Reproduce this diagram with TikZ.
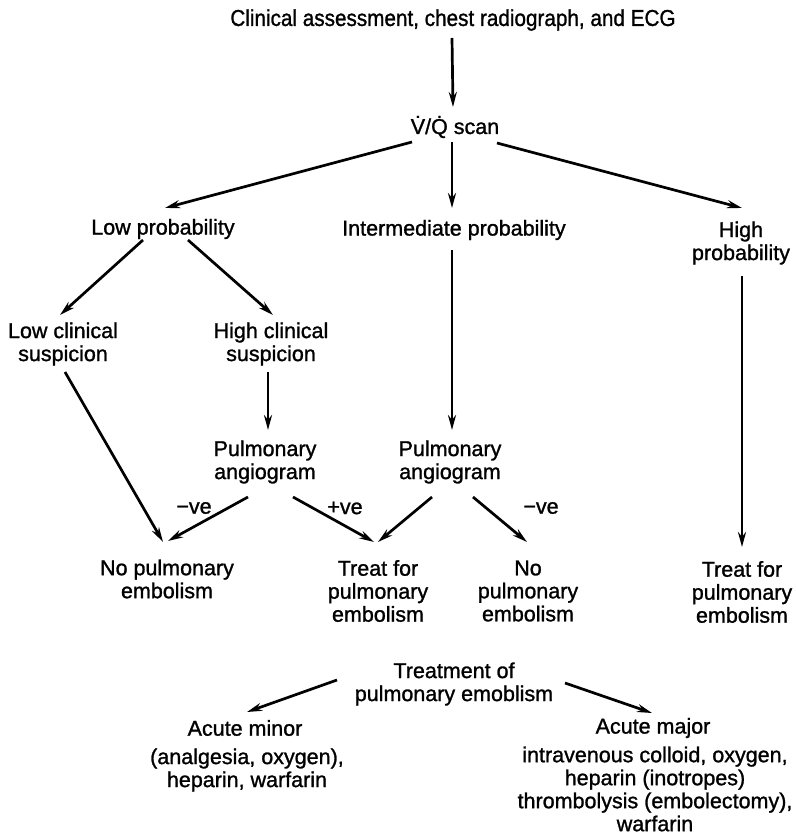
\documentclass[tikz,border=0pt]{standalone}
\usepackage{fontspec}
\setmainfont{Liberation Sans}[FakeBold=1.2]
\usetikzlibrary{arrows.meta,calc}
\tikzset{
  txt/.style={inner sep=0pt, align=center, font=\fontsize{21.5}{23}\selectfont},
  lbl/.style={inner sep=0pt, font=\fontsize{21.5}{23}\selectfont},
  arr/.style={line width=2.7pt, -{Stealth[length=15pt,width=8pt]}}
}
\begin{document}
\begin{tikzpicture}[x=1pt,y=-1pt]
\useasboundingbox (0,0) rectangle (795,832);
\node[txt, font=\fontsize{23}{25}\selectfont, xscale=0.9] (top) at (453,20) {Clinical assessment, chest radiograph, and ECG};
\node[txt] (vq) at (455,127) {\.{V}/\.{Q} scan};
\node[txt] (low) at (163,229) {Low probability};
\node[txt] (inter) at (454,230) {Intermediate probability};
\node[txt] (high) at (741,243) {High\\probability};
\node[txt] (lcs) at (63,344) {Low clinical\\suspicion};
\node[txt] (hcs) at (271,344) {High clinical\\suspicion};
\node[txt] (pa1) at (265,462) {Pulmonary\\angiogram};
\node[txt] (pa2) at (450,462) {Pulmonary\\angiogram};
\node[txt] (npe) at (167,579) {No pulmonary\\embolism};
\node[txt] (treat1) at (378,591) {Treat for\\pulmonary\\embolism};
\node[txt] (no2) at (528,591) {No\\pulmonary\\embolism};
\node[txt] (treat2) at (742,592) {Treat for\\pulmonary\\embolism};
\node[txt] (treatment) at (454,684) {Treatment of\\pulmonary emoblism};
\node[txt] (minor) at (245,728) {Acute minor};
\node[txt] (minortxt) at (247,770) {(analgesia, oxygen),\\heparin, warfarin};
\node[txt] (major) at (653,728) {Acute major};
\node[txt] (majortxt) at (655,789) {intravenous colloid, oxygen,\\heparin (inotropes)\\thrombolysis (embolectomy),\\warfarin};
\node[lbl] (neg1) at (194,508) {−ve};
\node[lbl] (pos1) at (345,508) {+ve};
\node[lbl] (neg2) at (541,508) {−ve};

\draw[arr] ($(top)+(-1,18)$) -- ($(vq)+(-2,-20)$);
\draw[arr] ($(vq)+(-43,15)$) -- ($(low)+(2,-21)$);
\draw[arr] ($(vq)+(-3,15)$) -- ($(inter)+(-2,-22)$);
\draw[arr] ($(vq)+(42,16)$) -- ($(high)+(1,-35)$);
\draw[arr] ($(low)+(-20,11)$) -- ($(lcs)+(-3,-29)$);
\draw[arr] ($(low)+(25,11)$) -- ($(hcs)+(2,-29)$);
\draw[arr] ($(hcs)+(-3,28)$) -- ($(pa1)+(3,-32)$);
\draw[arr] ($(inter)+(-2,20)$) -- ($(pa2)+(2,-32)$);
\draw[arr] ($(high)+(1,33)$) -- ($(treat2)+(0,-45)$);
\draw[arr] ($(lcs)+(2,28)$) -- ($(npe)+(-4,-37)$);
\draw[arr] ($(pa1)+(-17,35)$) -- ($(npe)+(1,-38)$);
\draw[arr] ($(pa1)+(28,35)$) -- ($(treat1)+(-4,-49)$);
\draw[arr] ($(pa2)+(-18,35)$) -- ($(treat1)+(0,-49)$);
\draw[arr] ($(pa2)+(23,35)$) -- ($(no2)+(-1,-49)$);
\draw[arr] ($(treatment)+(-117,-4)$) -- ($(minor)+(2,-16)$);
\draw[arr] ($(treatment)+(111,-1)$) -- ($(major)+(-1,-15)$);
\end{tikzpicture}
\end{document}
